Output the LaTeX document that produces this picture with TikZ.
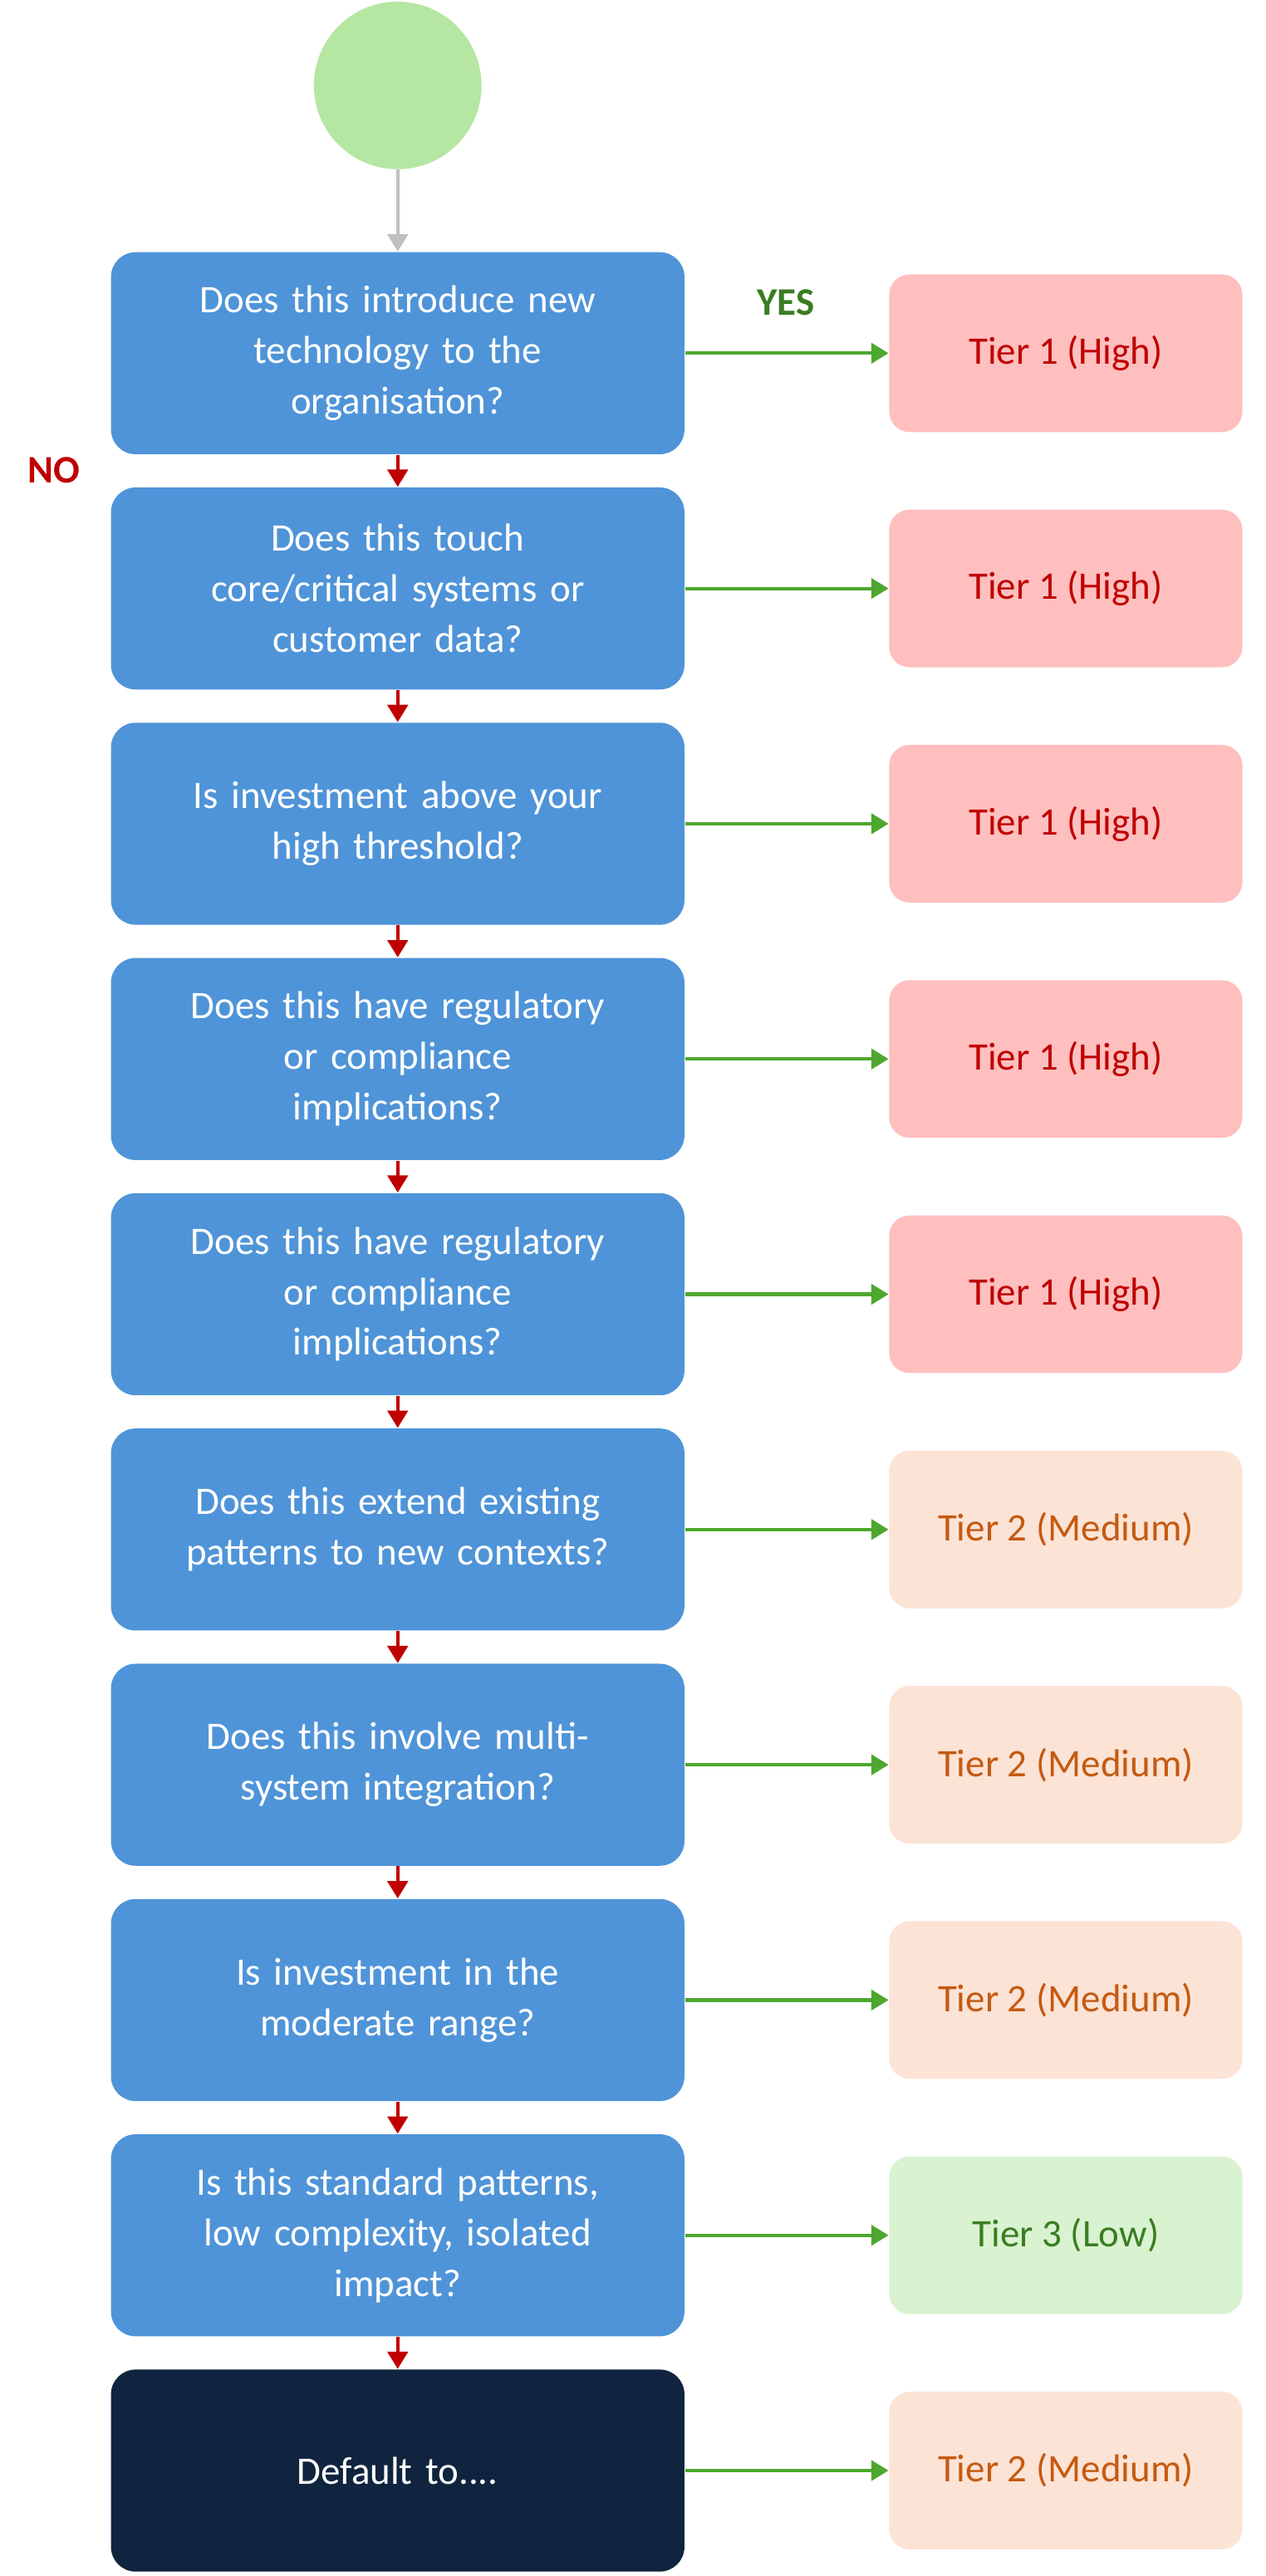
\documentclass[tikz,border=0pt]{standalone}
\usepackage{fontspec}
\setmainfont{Carlito}
\usetikzlibrary{arrows.meta}
\definecolor{startgreen}{HTML}{B5E6A2}
\definecolor{questionblue}{HTML}{4F94D8}
\definecolor{defaultnavy}{HTML}{10243F}
\definecolor{highfill}{HTML}{FFBFBF}
\definecolor{hightext}{HTML}{C00000}
\definecolor{medfill}{HTML}{FBE3D6}
\definecolor{medtext}{HTML}{C55A11}
\definecolor{lowfill}{HTML}{D9F2D0}
\definecolor{lowtext}{HTML}{3A7D22}
\definecolor{yesgreen}{HTML}{4EA72E}
\tikzset{
  qbox/.style={fill=questionblue, rounded corners=0.3cm, minimum width=6.98cm, minimum height=2.46cm,
    text width=6.4cm, align=center, text=white, font=\fontsize{13.5}{17.5}\selectfont},
  qdark/.style={qbox, fill=defaultnavy},
  tierbox/.style={rounded corners=0.25cm, minimum width=4.3cm, minimum height=1.92cm, font=\fontsize{13.5}{16}\selectfont},
  tierhigh/.style={tierbox, fill=highfill, text=hightext},
  tiermed/.style={tierbox, fill=medfill, text=medtext},
  tierlow/.style={tierbox, fill=lowfill, text=lowtext},
  noarrow/.style={-{Triangle[length=6pt,width=7pt]}, hightext, line width=1.2pt},
  yesarrow/.style={-{Triangle[length=6pt,width=7pt]}, yesgreen, line width=1.2pt}
}
\begin{document}
\begin{tikzpicture}[x=0.02cm, y=-0.02cm]
  \useasboundingbox (0,0) rectangle (770,1568);

  % Start
  \node[circle, fill=startgreen, minimum size=2.04cm, inner sep=0pt] (start) at (242,52) {};

  % Questions and tiers
  \foreach \i/\qsty/\txt/\tsty/\tier in {
    1/qbox/{Does this introduce new\\technology to the\\organisation?}/tierhigh/Tier 1 (High),
    2/qbox/{Does this touch\\core/critical systems or\\customer data?}/tierhigh/Tier 1 (High),
    3/qbox/{Is investment above your\\high threshold?}/tierhigh/Tier 1 (High),
    4/qbox/{Does this have regulatory\\or compliance\\implications?}/tierhigh/Tier 1 (High),
    5/qbox/{Does this have regulatory\\or compliance\\implications?}/tierhigh/Tier 1 (High),
    6/qbox/{Does this extend existing\\patterns to new contexts?}/tiermed/Tier 2 (Medium),
    7/qbox/{Does this involve multi-\\system integration?}/tiermed/Tier 2 (Medium),
    8/qbox/{Is investment in the\\moderate range?}/tiermed/Tier 2 (Medium),
    9/qbox/{Is this standard patterns,\\low complexity, isolated\\impact?}/tierlow/Tier 3 (Low),
    10/qdark/{Default to....}/tiermed/Tier 2 (Medium)} {
    \node[\qsty] (q\i) at (242,{215+(\i-1)*143.2}) {\txt};
    \node[\tsty] (t\i) at (648.5,{215+(\i-1)*143.2}) {\tier};
    \draw[yesarrow] (q\i.east) -- (t\i.west);
  }

  % Connectors
  \draw[-{Triangle[length=6pt,width=7pt]}, gray!50, line width=1.2pt] (start) -- (q1);
  \foreach \i [evaluate=\i as \j using int(\i+1)] in {1,...,9}
    \draw[noarrow] (q\i.south) -- (q\j.north);

  % Labels
  \node[text=lowtext, font=\fontsize{13.5}{16}\selectfont\bfseries] (yes) at (478,184) {YES};
  \node[text=hightext, font=\fontsize{13.5}{16}\selectfont\bfseries] (no) at (33,286) {NO};
\end{tikzpicture}
\end{document}
